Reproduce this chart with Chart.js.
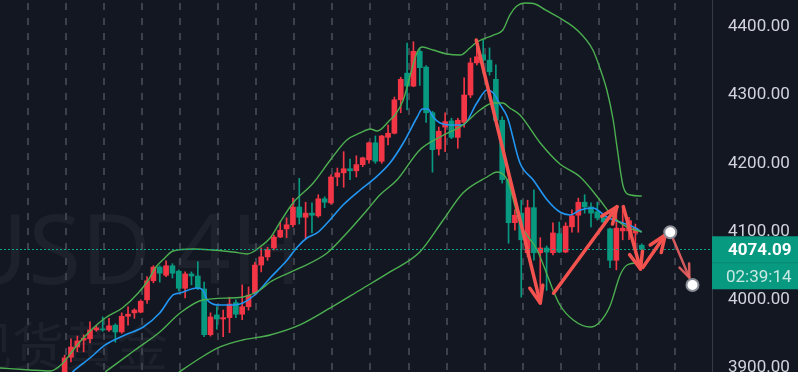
<!DOCTYPE html>
<html lang="zh">
  <head>
    <meta charset="UTF-8" />
    <title>XAUUSD 4H</title>
    <script src="https://cdn.jsdelivr.net/npm/chart.js"></script>
    <style>
      html, body {
        margin: 0;
        padding: 0;
        background: #131722;
        overflow: hidden;
      }
      canvas {
        display: block;
      }
    </style>
  </head>
  <body>
    <canvas id="chart" width="798" height="372"></canvas>

    <script>
      // candles, one per 4h bar (index = position in the arrays)
      const opens = [3883, 3916, 3931, 3941, 3943, 3956, 3957, 3956, 3963, 3953,
        3976, 3981, 3982, 4000, 4028, 4048, 4036, 4050, 4042, 4017,
        4038, 4035, 4016, 3949, 3978, 3972, 3974, 3996, 3979, 3990,
        4010, 4051, 4063, 4076, 4092, 4104, 4110, 4136, 4121, 4127,
        4123, 4148, 4142, 4180, 4186, 4192, 4189, 4198, 4205, 4230,
        4203, 4238, 4244, 4293, 4332, 4313, 4364, 4341, 4274, 4221,
        4253, 4262, 4238, 4260, 4300, 4347, 4359, 4351, 4323, 4263,
        4176, 4113, 4127, 4069, 4135, 4069, 4076, 4069, 4097, 4070,
        4107, 4124, 4143, 4136, 4129, 4120, 4104, 4058, 4101, 4101,
        4098, 4080];
      const highs = [3919, 3943, 3947, 3949, 3968, 3963, 3975, 3973, 3965, 3981,
        3990, 3987, 4000, 4034, 4050, 4050, 4057, 4053, 4044, 4041,
        4041, 4056, 4026, 3981, 3990, 3985, 4004, 4000, 4022, 4019,
        4055, 4076, 4077, 4095, 4114, 4120, 4149, 4178, 4143, 4142,
        4154, 4151, 4183, 4193, 4217, 4206, 4211, 4209, 4231, 4240,
        4241, 4256, 4297, 4326, 4376, 4378, 4367, 4343, 4276, 4253,
        4274, 4266, 4266, 4325, 4354, 4373, 4381, 4369, 4344, 4268,
        4178, 4132, 4146, 4146, 4161, 4091, 4079, 4113, 4114, 4113,
        4132, 4149, 4154, 4142, 4143, 4126, 4105, 4135, 4136, 4121,
        4111, 4082];
      const lows = [3875, 3909, 3924, 3924, 3937, 3954, 3954, 3954, 3938, 3951,
        3963, 3973, 3981, 3995, 4025, 4026, 4034, 4032, 4013, 4003,
        4022, 4015, 3946, 3947, 3957, 3946, 3952, 3974, 3971, 3985,
        4007, 4041, 4058, 4073, 4091, 4091, 4107, 4111, 4089, 4098,
        4121, 4135, 4140, 4167, 4165, 4176, 4180, 4195, 4200, 4200,
        4200, 4227, 4243, 4274, 4278, 4312, 4314, 4260, 4187, 4212,
        4217, 4236, 4222, 4253, 4296, 4344, 4332, 4329, 4256, 4171,
        4083, 4102, 4004, 4063, 4058, 4000, 4014, 4066, 4069, 4069,
        4099, 4099, 4127, 4107, 4117, 4108, 4047, 4044, 4088, 4088,
        4077, 4069];
      const closes = [3915, 3931, 3940, 3944, 3956, 3959, 3956, 3962, 3953, 3976,
        3979, 3985, 3998, 4028, 4048, 4039, 4050, 4039, 4017, 4038,
        4035, 4017, 3949, 3975, 3972, 3974, 3994, 3979, 3990, 4007,
        4051, 4063, 4074, 4092, 4102, 4110, 4136, 4121, 4127, 4124,
        4148, 4143, 4180, 4186, 4192, 4189, 4198, 4208, 4230, 4203,
        4240, 4244, 4293, 4323, 4313, 4364, 4340, 4274, 4220, 4247,
        4261, 4238, 4263, 4300, 4347, 4356, 4351, 4334, 4263, 4176,
        4113, 4124, 4088, 4135, 4069, 4076, 4070, 4098, 4070, 4108,
        4123, 4143, 4136, 4127, 4120, 4114, 4058, 4105, 4105, 4116,
        4105, 4074.09];

      // indicator lines, read as [bar index, price]
      const upperBand = [[-10.2, 3900.3], [-5.5, 3897.4], [-2.3, 3895.9], [-0.4, 3906.2], [1.6, 3929.6],
        [3.7, 3951.5], [6.4, 3973.5], [9.1, 3988.2], [11.6, 4010.1], [13.2, 4029.1], [14.3, 4046.7],
        [15.8, 4061.4], [17.1, 4071.6], [20.3, 4074.5], [26.6, 4070.1], [28.8, 4067.2], [29.7, 4070.1],
        [30.8, 4077.5], [32.4, 4090.6], [34.0, 4114.1], [36.0, 4141.9], [39.2, 4171.2], [41.9, 4204.8],
        [44.5, 4234.1], [46.6, 4244.4], [48.2, 4250.2], [49.3, 4247.3], [51.3, 4263.4], [52.1, 4270.7],
        [53.4, 4292.7], [54.5, 4329.3], [55.6, 4363.0], [56.4, 4370.3], [58.1, 4365.9], [60.3, 4360.0],
        [62.4, 4358.6], [63.9, 4368.8], [65.0, 4377.6], [67.6, 4387.8], [69.1, 4395.2], [70.2, 4417.1],
        [71.3, 4430.3], [72.6, 4434.7], [74.2, 4433.2], [75.8, 4424.5], [78.1, 4412.7], [80.8, 4395.2],
        [83.3, 4365.9], [84.4, 4339.5], [85.5, 4307.3], [86.5, 4263.4], [87.1, 4223.9], [88.1, 4165.3],
        [89.2, 4153.6], [91.0, 4152.1]];
      const basisLine = [[6.4, 3894.5], [11.1, 3926.7], [15.0, 3953.0], [18.2, 3980.8], [21.8, 3999.9],
        [28.1, 4004.3], [30.8, 4014.5], [32.4, 4026.2], [37.1, 4046.7], [41.4, 4068.7], [44.5, 4098.0],
        [47.7, 4131.6], [49.7, 4153.6], [52.4, 4175.6], [56.0, 4219.5], [59.2, 4238.5], [62.8, 4256.1],
        [65.5, 4278.0], [67.6, 4288.3], [69.1, 4288.3], [70.2, 4281.0], [71.8, 4270.7], [75.0, 4229.7],
        [78.1, 4199.0], [81.3, 4179.9], [84.4, 4146.3], [86.5, 4121.4], [88.7, 4106.7], [91.0, 4099.4]];
      const lowerBand = [[17.4, 3890.1], [21.4, 3914.9], [24.5, 3931.1], [28.1, 3941.3], [32.4, 3948.6],
        [37.1, 3963.3], [41.9, 3988.2], [46.6, 4014.5], [51.3, 4040.9], [56.0, 4070.1], [59.7, 4117.0],
        [62.8, 4156.5], [66.6, 4179.9], [68.2, 4187.3], [69.8, 4175.6], [71.8, 4112.6], [74.5, 4073.1],
        [76.1, 4036.5], [77.0, 4014.5], [78.1, 3992.5], [80.2, 3970.6], [82.9, 3960.3], [84.4, 3967.7],
        [86.0, 3991.1], [87.6, 4036.5], [88.7, 4051.1], [90.3, 4054.0], [91.0, 4051.1]];
      const maLine = [[-0.7, 3875.4], [1.6, 3897.4], [4.0, 3914.9], [6.4, 3934.0], [9.5, 3948.6],
        [12.4, 3960.3], [15.0, 3980.8], [17.1, 4007.2], [18.2, 4010.1], [20.9, 4017.4], [21.8, 4014.5],
        [22.5, 3999.9], [24.5, 3992.5], [26.6, 3992.5], [28.1, 3995.5], [30.3, 4010.1], [32.4, 4032.1],
        [35.1, 4058.4], [36.7, 4077.5], [38.2, 4090.6], [39.8, 4098.0], [41.4, 4112.6], [43.9, 4138.9],
        [46.6, 4160.9], [48.6, 4175.6], [51.3, 4200.4], [53.4, 4229.7], [55.6, 4267.8], [56.4, 4279.5],
        [57.3, 4279.5], [58.1, 4267.8], [59.2, 4259.0], [60.8, 4256.1], [62.8, 4256.1], [65.0, 4288.3],
        [66.6, 4307.3], [67.6, 4302.9], [68.7, 4285.4], [69.8, 4267.8], [71.8, 4200.4], [73.9, 4175.6],
        [76.1, 4146.3], [78.1, 4128.7], [79.7, 4124.3], [81.3, 4131.6], [83.3, 4134.6], [85.5, 4121.4],
        [87.6, 4114.1], [89.7, 4106.7], [91.0, 4099.4]];

      // hand-drawn arrows and the projected path, [bar index, price]
      const arrows = [
        [[64.9, 4380.5], [75.0, 3995.5]],
        [[77.1, 4009.7], [87.1, 4136.5]],
        [[88.1, 4136.5], [90.8, 4045.2]],
        [[91.2, 4047.7], [94.7, 4095.0]]
      ];
      const pathPoints = [[95.5, 4099.0], [99.0, 4021.8]];

      const yTicks = [3900, 4000, 4100, 4200, 4300, 4400];
      const lastPrice = 4074.09;
      const countdown = '02:39:14';
      const watermark = ['XAUUSD 4H', '现货黄金'];

      const RED = '#f23645';
      const GREEN = '#089981';
      const BAND = '#4caf50';
      const BLUE = '#2196f3';
      const ARROW = '#f4524f';

      const xMin = -10.19, xMax = 102.08;
      const yMin = 3894.4, yMax = 4439.1;
      // one dashed day separator every 6 bars
      const daySeparators = [];
      for (let v = -5.77; v < xMax; v += 6) daySeparators.push(v);

      const idx = closes.map((_, i) => i);
      const candleColors = idx.map(i => closes[i] >= opens[i] ? RED : GREEN);
      const pts = arr => arr.map(([x, y]) => ({ x, y }));

      function lineSet(data, color, width) {
        return {
          type: 'line',
          data: pts(data),
          borderColor: color,
          borderWidth: width,
          pointRadius: 0,
          cubicInterpolationMode: 'monotone',
          order: 0
        };
      }

      function drawArrow(ctx, x1, y1, x2, y2, width, head) {
        ctx.lineWidth = width;
        ctx.beginPath();
        ctx.moveTo(x1, y1);
        ctx.lineTo(x2, y2);
        ctx.stroke();
        const a = Math.atan2(y2 - y1, x2 - x1);
        ctx.beginPath();
        ctx.moveTo(x2 - head * Math.cos(a - 0.38), y2 - head * Math.sin(a - 0.38));
        ctx.lineTo(x2, y2);
        ctx.lineTo(x2 - head * Math.cos(a + 0.38), y2 - head * Math.sin(a + 0.38));
        ctx.stroke();
      }

      const decor = {
        id: 'decor',
        beforeDraw(chart) {
          const { ctx } = chart;
          ctx.save();
          ctx.fillStyle = '#131722';
          ctx.fillRect(0, 0, chart.width, chart.height);
          ctx.fillStyle = 'rgba(255,255,255,0.045)';
          ctx.textAlign = 'right';
          ctx.textBaseline = 'alphabetic';
          ctx.font = '96px "Noto Sans"';
          ctx.fillText(watermark[0], 302, 284);
          ctx.font = '52px "Noto Sans CJK SC"';
          ctx.fillText(watermark[1], 168, 366);
          ctx.restore();
        },
        beforeDatasetsDraw(chart) {
          const { ctx, chartArea } = chart;
          const x = chart.scales.x;
          ctx.save();
          ctx.strokeStyle = '#3d414c';
          ctx.lineWidth = 2;
          ctx.setLineDash([7, 8]);
          ctx.lineDashOffset = -3;
          daySeparators.forEach(v => {
            const px = Math.round(x.getPixelForValue(v));
            ctx.beginPath();
            ctx.moveTo(px, chartArea.top);
            ctx.lineTo(px, chartArea.bottom);
            ctx.stroke();
          });
          ctx.restore();
        },
        afterDatasetsDraw(chart) {
          const { ctx, chartArea } = chart;
          const x = chart.scales.x, y = chart.scales.y;
          ctx.save();
          // last price line
          const py = Math.round(y.getPixelForValue(lastPrice)) + 0.5;
          ctx.strokeStyle = '#0aa58b';
          ctx.lineWidth = 1;
          ctx.setLineDash([2, 2]);
          ctx.beginPath();
          ctx.moveTo(chartArea.left, py);
          ctx.lineTo(chartArea.right, py);
          ctx.stroke();
          ctx.setLineDash([]);

          ctx.strokeStyle = ARROW;
          ctx.lineCap = 'round';
          ctx.lineJoin = 'round';
          arrows.forEach(([a, b]) => {
            drawArrow(ctx, x.getPixelForValue(a[0]), y.getPixelForValue(a[1]),
              x.getPixelForValue(b[0]), y.getPixelForValue(b[1]), 3.5, 18);
          });

          const p = pathPoints.map(([i, v]) => [x.getPixelForValue(i), y.getPixelForValue(v)]);
          const ang = Math.atan2(p[1][1] - p[0][1], p[1][0] - p[0][0]);
          const r = 6;
          ctx.strokeStyle = 'rgba(236,98,98,0.9)';
          drawArrow(ctx, p[0][0], p[0][1], p[1][0] - (r + 2) * Math.cos(ang), p[1][1] - (r + 2) * Math.sin(ang), 2.5, 14);
          p.forEach(([cx, cy]) => {
            ctx.beginPath();
            ctx.arc(cx, cy, r, 0, Math.PI * 2);
            ctx.fillStyle = '#ffffff';
            ctx.fill();
            ctx.lineWidth = 2;
            ctx.strokeStyle = '#8a8d96';
            ctx.stroke();
          });
          ctx.restore();
        },
        afterDraw(chart) {
          const { ctx } = chart;
          const y = chart.scales.y;
          const py = y.getPixelForValue(lastPrice);
          const left = y.left;
          ctx.save();
          ctx.fillStyle = GREEN;
          ctx.fillRect(left, py - 13, chart.width - left, 53);
          ctx.fillStyle = 'rgba(0,0,0,0.12)';
          ctx.fillRect(left, py + 13, chart.width - left, 1);
          ctx.textAlign = 'left';
          ctx.textBaseline = 'middle';
          ctx.fillStyle = '#ffffff';
          ctx.font = 'bold 17px Roboto';
          ctx.fillText(lastPrice.toFixed(2), left + 16, py + 1);
          ctx.fillStyle = 'rgba(255,255,255,0.78)';
          ctx.font = '17px Roboto';
          ctx.fillText(countdown, left + 14, py + 28);
          ctx.restore();
        }
      };

      const ctx = document.getElementById('chart').getContext('2d');

      new Chart(ctx, {
        type: 'bar',
        data: {
          datasets: [
            lineSet(upperBand, BAND, 1.4),
            lineSet(basisLine, BAND, 1.4),
            lineSet(lowerBand, BAND, 1.4),
            lineSet(maLine, BLUE, 1.6),
            {
              data: idx.map(i => ({ x: i, y: [opens[i], closes[i]] })),
              backgroundColor: candleColors,
              barThickness: 5,
              minBarLength: 1,
              grouped: false,
              order: 1
            },
            {
              data: idx.map(i => ({ x: i, y: [lows[i], highs[i]] })),
              backgroundColor: candleColors,
              barThickness: 1,
              grouped: false,
              order: 2
            }
          ]
        },
        options: {
          responsive: false,
          animation: false,
          layout: { padding: 0 },
          plugins: {
            legend: { display: false },
            tooltip: { enabled: false }
          },
          scales: {
            x: {
              type: 'linear',
              min: xMin,
              max: xMax,
              offset: false,
              ticks: { display: false },
              grid: { display: false, drawTicks: false },
              border: { display: false },
              afterFit: s => { s.height = 0; s.paddingLeft = 0; s.paddingRight = 0; }
            },
            y: {
              position: 'right',
              min: yMin,
              max: yMax,
              grid: { display: false, drawTicks: false },
              border: { display: true, color: '#363a45', width: 1 },
              ticks: {
                color: '#d1d4dc',
                font: { family: 'Roboto', size: 17 },
                padding: 16,
                crossAlign: 'near',
                callback: v => v.toFixed(2)
              },
              afterBuildTicks: s => { s.ticks = yTicks.map(v => ({ value: v })); },
              afterFit: s => { s.width = 86; s.paddingTop = 0; s.paddingBottom = 0; }
            }
          }
        },
        plugins: [decor]
      });
    </script>
  </body>
</html>
